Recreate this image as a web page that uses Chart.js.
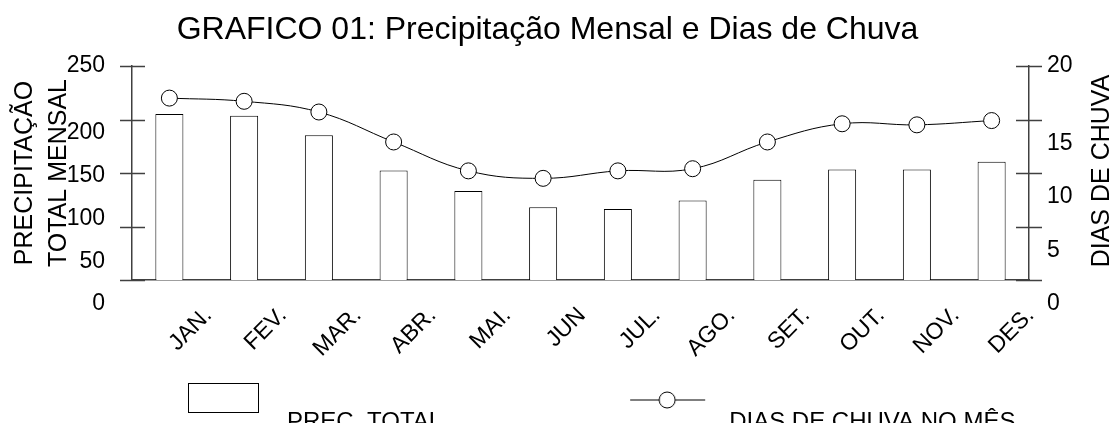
<!DOCTYPE html>
<html lang="pt">
<head>
<meta charset="utf-8">
<title>GRAFICO 01</title>
<script src="https://cdn.jsdelivr.net/npm/chart.js@4.4.1/dist/chart.umd.min.js"></script>
<style>
    html, body { margin: 0; padding: 0; background: #fff; }
    #grafico { display: block; }
</style>
</head>
<body>
<canvas id="grafico" width="1114" height="423"></canvas>
<script>
// ==========================================
// DADOS
// ==========================================
const MESES = ['JAN.', 'FEV.', 'MAR.', 'ABR.', 'MAI.', 'JUN', 'JUL.', 'AGO.', 'SET.', 'OUT.', 'NOV.', 'DES.'];
const PREC_TOTAL = [194, 192, 169, 128, 104, 85, 83, 93, 117, 129, 129, 138];
const DIAS_CHUVA = [17.0, 16.7, 15.7, 12.9, 10.2, 9.5, 10.2, 10.4, 12.9, 14.6, 14.5, 14.9];
const TICKS_PREC = [0, 50, 100, 150, 200, 250];
const TICKS_DIAS = [0, 5, 10, 15, 20];

const FONTE = "'Liberation Sans', Arial, sans-serif";
const COR_EIXO = '#404040';
// no original os rótulos dos eixos ficam deslocados para baixo (menos o do topo)
const DESLOCA = 0.112;

Chart.defaults.font.family = FONTE;
Chart.defaults.color = '#000';

function ticksDeslocados(valores) {
    return function (escala) {
        const desl = (escala.max - escala.min) * DESLOCA;
        escala.ticks = valores.map((v, i) => ({ value: i === valores.length - 1 ? v : v - desl }));
    };
}

// ==========================================
// ÍCONES DA LEGENDA
// ==========================================
function iconeBarra() {
    const c = document.createElement('canvas');
    c.width = 245; c.height = 90;
    const g = c.getContext('2d');
    g.fillStyle = '#fff';
    g.fillRect(158, 6, 70, 29);
    g.strokeStyle = '#000';
    g.lineWidth = 1;
    g.strokeRect(158.5, 6.5, 70, 29);
    return c;
}

function iconeLinha() {
    const c = document.createElement('canvas');
    c.width = 245; c.height = 90;
    const g = c.getContext('2d');
    g.strokeStyle = '#555';
    g.lineWidth = 1.5;
    g.beginPath(); g.moveTo(158, 23); g.lineTo(233, 23); g.stroke();
    g.beginPath(); g.arc(195, 23, 8, 0, Math.PI * 2);
    g.fillStyle = '#fff'; g.fill();
    g.strokeStyle = '#000'; g.lineWidth = 1; g.stroke();
    return c;
}

const ICONES = [iconeBarra(), iconeLinha()];

// ==========================================
// MARCAS DOS EIXOS + TÍTULO DA DIREITA
// ==========================================
const marcasEixos = {
    id: 'marcasEixos',
    afterDraw(chart) {
        const { ctx, chartArea } = chart;
        const yR = chart.scales.yR;
        ctx.save();
        ctx.strokeStyle = COR_EIXO;
        ctx.lineWidth = 1.5;
        TICKS_DIAS.forEach(v => {
            const py = Math.round(yR.getPixelForValue(v)) + 0.5;
            ctx.beginPath();
            ctx.moveTo(chartArea.left - 12, py); ctx.lineTo(chartArea.left + 13, py);
            ctx.moveTo(chartArea.right - 13, py); ctx.lineTo(chartArea.right + 13, py);
            ctx.stroke();
        });
        // título do eixo direito, lido de baixo para cima
        ctx.translate(chartArea.right + 73, (chartArea.top + chartArea.bottom) / 2 - 2);
        ctx.rotate(-Math.PI / 2);
        ctx.font = '25px ' + FONTE;
        ctx.fillStyle = '#000';
        ctx.textAlign = 'center';
        ctx.textBaseline = 'middle';
        ctx.fillText('DIAS DE CHUVA', 0, 0);
        ctx.restore();
    }
};

// ==========================================
// GRÁFICO
// ==========================================
new Chart(document.getElementById('grafico'), {
    type: 'bar',
    data: {
        labels: MESES,
        datasets: [{
            type: 'line',
            label: 'DIAS DE CHUVA NO MÊS',
            data: DIAS_CHUVA,
            yAxisID: 'yR',
            borderColor: '#000',
            borderWidth: 1,
            tension: 0.4,
            pointRadius: 8,
            pointBackgroundColor: '#fff',
            pointBorderColor: '#000',
            pointBorderWidth: 1,
            order: 0
        }, {
            type: 'bar',
            label: 'PREC. TOTAL',
            data: PREC_TOTAL,
            yAxisID: 'y',
            backgroundColor: '#fff',
            borderColor: '#000',
            borderWidth: 1,
            barPercentage: 0.375,
            categoryPercentage: 1,
            order: 1
        }]
    },
    options: {
        responsive: false,
        devicePixelRatio: 1,
        animation: false,
        layout: { padding: { top: 0, left: 0, right: 19, bottom: -21 } },
        plugins: {
            title: {
                display: true,
                text: 'GRAFICO 01: Precipitação Mensal e Dias de Chuva',
                color: '#000',
                font: { size: 32, weight: 'normal' },
                padding: { top: 11, bottom: 16.6 }
            },
            legend: {
                position: 'bottom',
                align: 'start',
                labels: {
                    usePointStyle: true,
                    pointStyleWidth: 245,
                    padding: 30,
                    color: '#000',
                    font: { size: 24 },
                    generateLabels: () => [
                        { text: 'PREC. TOTAL', pointStyle: ICONES[0], fillStyle: '#fff', strokeStyle: '#000', lineWidth: 0, fontColor: '#000', hidden: false, datasetIndex: 1 },
                        { text: 'DIAS DE CHUVA NO MÊS', pointStyle: ICONES[1], fillStyle: '#fff', strokeStyle: '#000', lineWidth: 0, fontColor: '#000', hidden: false, datasetIndex: 0 }
                    ]
                }
            },
            tooltip: { enabled: false }
        },
        scales: {
            x: {
                offset: true,
                grid: { display: false, drawTicks: false },
                border: { display: true, color: COR_EIXO, width: 1.5 },
                ticks: {
                    autoSkip: false,
                    minRotation: 45,
                    maxRotation: 45,
                    labelOffset: 39,
                    padding: 22,
                    font: { size: 23 }
                },
                afterFit: (s) => { s.height = 100; }
            },
            y: {
                position: 'left',
                min: 0,
                max: 250,
                afterBuildTicks: ticksDeslocados(TICKS_PREC),
                ticks: {
                    callback: (v, i) => TICKS_PREC[i],
                    padding: 27,
                    font: { size: 23 }
                },
                grid: { display: false, drawTicks: false },
                border: { display: true, color: COR_EIXO, width: 1.5 },
                title: {
                    display: true,
                    text: ['PRECIPITAÇÃO', 'TOTAL MENSAL'],
                    align: 'center',
                    font: { size: 25, lineHeight: 1.36 },
                    padding: { top: 8, bottom: 0 }
                },
                afterFit: (s) => { s.width = 132; }
            },
            yR: {
                position: 'right',
                min: 0,
                max: 20,
                afterBuildTicks: ticksDeslocados(TICKS_DIAS),
                ticks: {
                    callback: (v, i) => TICKS_DIAS[i],
                    padding: 18,
                    font: { size: 23 }
                },
                grid: { display: false, drawTicks: false },
                border: { display: true, color: COR_EIXO, width: 1.5 },
                afterFit: (s) => { s.width = 66; }
            }
        }
    },
    plugins: [marcasEixos]
});
</script>
</body>
</html>
